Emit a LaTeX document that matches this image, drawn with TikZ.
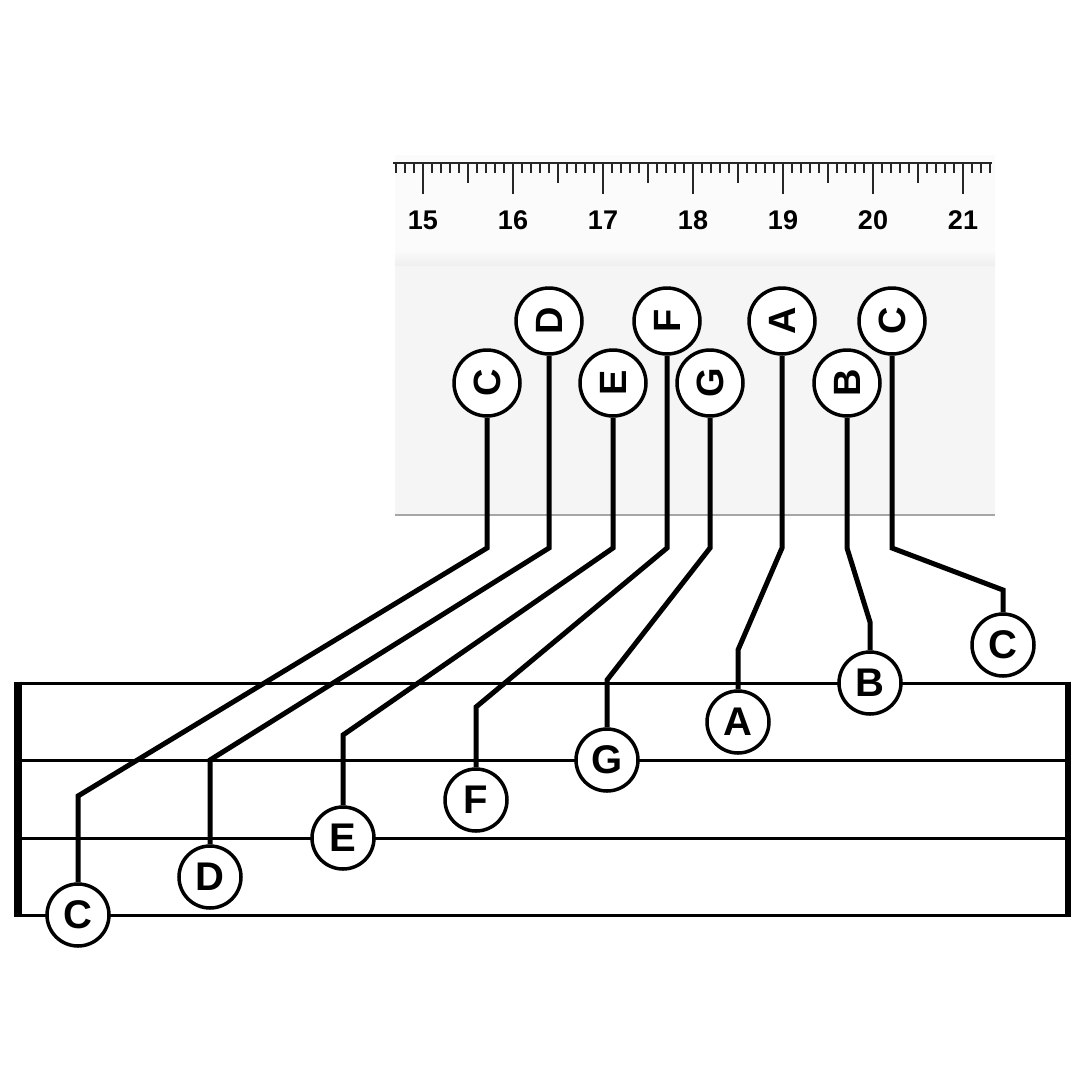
\documentclass[tikz,border=0pt]{standalone}
\usepackage{fontspec}
\usepackage{graphicx}
\setmainfont{Liberation Sans}
\begin{document}
\begin{tikzpicture}[x=1pt,y=-1pt,
  note/.style={circle,draw=black,line width=3.5pt,fill=white,minimum size=62pt,inner sep=0pt,font=\fontsize{40}{40}\selectfont\bfseries},
  topnote/.style={note,minimum size=66pt,font=\fontsize{38}{38}\selectfont\bfseries},
  conn/.style={line width=5pt,line join=miter},
  staff/.style={line width=3pt},
  tick/.style={line width=1.7pt,color=black!85},
  num/.style={font=\fontsize{27}{27}\selectfont\bfseries,inner sep=0pt}]
\useasboundingbox (0,0) rectangle (1080,1080);
\fill[white] (0,0) rectangle (1080,1080);
% ruler body
\fill[gray!3] (395,155) rectangle (995,250);
\shade[top color=gray!3,bottom color=gray!13] (395,250) rectangle (995,266);
\fill[gray!8] (395,266) rectangle (995,515);
\draw[gray!70,line width=1.5pt] (395,515) -- (995,515);
% ruler scale
\draw[tick] (393,163) -- (992,163);
\foreach \i in {0,...,66}{
  \pgfmathtruncatemacro{\r}{mod(\i+7,10)}
  \pgfmathtruncatemacro{\h}{mod(\i+7,5)}
  \ifnum\r=0
    \draw[tick] (396+9*\i,163) -- (396+9*\i,194);
  \else\ifnum\h=0
    \draw[tick] (396+9*\i,163) -- (396+9*\i,183);
  \else
    \draw[tick] (396+9*\i,163) -- (396+9*\i,173);
  \fi\fi
}
\foreach \n [count=\k from 0] in {15,...,21}
  \node[num] (n\n) at (423+90*\k,220) {\n};
% staff
\draw[staff] (18,683) rectangle (1068,915);
\draw[staff] (18,760) -- (1068,760);
\draw[staff] (18,838) -- (1068,838);
\draw[line width=8pt] (18,681.5) -- (18,916.5);
\draw[line width=6pt] (1068,681.5) -- (1068,916.5);
% top notes
\node[topnote] (t1) at (487,383) {\rotatebox{90}{C}};
\node[topnote] (t2) at (549,321) {\rotatebox{90}{D}};
\node[topnote] (t3) at (613,383) {\rotatebox{90}{E}};
\node[topnote] (t4) at (667,321) {\rotatebox{90}{F}};
\node[topnote] (t5) at (710,383) {\rotatebox{90}{G}};
\node[topnote] (t6) at (782,321) {\rotatebox{90}{A}};
\node[topnote] (t7) at (847,383) {\rotatebox{90}{B}};
\node[topnote] (t8) at (892,321) {\rotatebox{90}{C}};
% bottom notes
\node[note] (b1) at (78,915) {C};
\node[note] (b2) at (210,877) {D};
\node[note] (b3) at (343,838) {E};
\node[note] (b4) at (476,800) {F};
\node[note] (b5) at (607,760) {G};
\node[note] (b6) at (738,722) {A};
\node[note] (b7) at (870,683) {B};
\node[note] (b8) at (1003,645) {C};
% connectors
\draw[conn] (t1.south) -- (487,548) -- (78,796) -- (b1.north);
\draw[conn] (t2.south) -- (549,548) -- (210,760) -- (b2.north);
\draw[conn] (t3.south) -- (613,548) -- (343,735) -- (b3.north);
\draw[conn] (t4.south) -- (667,548) -- (476,707) -- (b4.north);
\draw[conn] (t5.south) -- (710,548) -- (607,680) -- (b5.north);
\draw[conn] (t6.south) -- (782,548) -- (738,650) -- (b6.north);
\draw[conn] (t7.south) -- (847,548) -- (870,622) -- (b7.north);
\draw[conn] (t8.south) -- (892,548) -- (1003,590) -- (b8.north);
\end{tikzpicture}
\end{document}
